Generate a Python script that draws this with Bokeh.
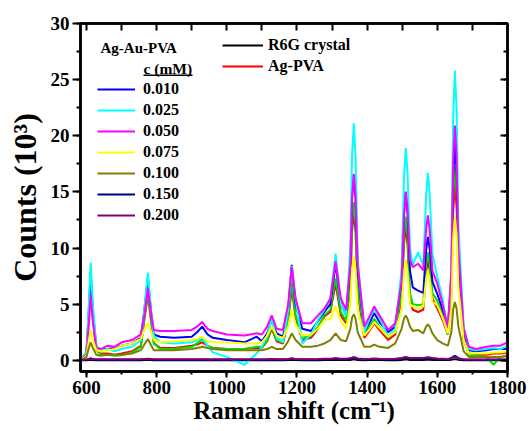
from bokeh.plotting import figure
from bokeh.models import (Range1d, SingleIntervalTicker, LinearAxis, Legend, LegendItem,
                          Label, BoxAnnotation, ColumnDataSource, CustomJSTickFormatter)
from bokeh.embed import file_html
from bokeh.resources import INLINE

# ---------------- data ----------------
raman_shift = [583, 600, 606, 612, 618, 628, 640, 660, 680, 700,
               730, 755, 765, 775, 785, 792, 810, 850, 900, 915,
               930, 945, 960, 1000, 1050, 1085, 1100, 1115, 1128, 1142,
               1160, 1175, 1185, 1196, 1215, 1240, 1260, 1278, 1295, 1310,
               1325, 1340, 1352, 1357, 1362, 1367, 1373, 1392, 1408, 1420,
               1435, 1460, 1480, 1498, 1505, 1510, 1515, 1522, 1530, 1545,
               1560, 1568, 1573, 1578, 1586, 1600, 1615, 1630, 1640, 1645,
               1650, 1655, 1660, 1675, 1690, 1710, 1740, 1760, 1780, 1800]

r6g_crystal = [0.0, 0.0, 0.02, 0.05, 0.02, 0.0, 0.0, 0.0, 0.0, 0.0,
               0.0, 0.0, 0.02, 0.04, 0.02, 0.0, 0.0, 0.0, 0.0, 0.0,
               0.0, 0.0, 0.0, 0.0, 0.0, 0.0, 0.0, 0.0, 0.02, 0.0,
               0.0, 0.02, 0.05, 0.02, 0.0, 0.0, 0.0, 0.02, 0.02, 0.05,
               0.02, 0.02, 0.03, 0.06, 0.08, 0.06, 0.03, 0.0, 0.02, 0.03,
               0.02, 0.0, 0.0, 0.03, 0.06, 0.08, 0.06, 0.03, 0.03, 0.03,
               0.03, 0.05, 0.06, 0.05, 0.03, 0.02, 0.02, 0.02, 0.04, 0.08,
               0.1, 0.08, 0.04, 0.0, 0.0, 0.0, 0.0, 0.0, 0.0, 0.0]

ag_pva = [0.0, 0.5, 3.3, 6.4, 3.7, 0.9, 0.6, 0.6, 0.5, 0.6,
          0.8, 1.3, 3.6, 5.8, 3.3, 1.5, 1.1, 1.1, 1.3, 1.4,
          1.6, 1.3, 1.1, 1.0, 1.0, 1.1, 1.1, 1.7, 2.8, 1.7,
          1.5, 3.5, 6.4, 3.8, 1.8, 2.0, 2.8, 3.9, 4.3, 6.8,
          4.0, 3.3, 6.5, 11.5, 13.2, 11.4, 6.0, 2.0, 2.7, 3.3,
          2.7, 1.8, 2.3, 5.5, 10.3, 11.9, 10.3, 5.5, 4.5, 4.3,
          4.5, 7.8, 8.9, 8.1, 5.5, 4.6, 3.6, 2.3, 5.5, 13.1,
          15.7, 13.6, 7.5, 1.8, 0.6, 0.5, 0.5, 0.6, 0.6, 0.7]

unlabeled_green = [0.0, 0.6, 3.8, 7.3, 4.2, 1.0, 0.5, 0.5, 0.4, 0.45,
                   0.7, 1.2, 3.8, 6.1, 3.5, 1.5, 1.0, 1.0, 1.2, 1.5,
                   1.9, 1.3, 1.1, 1.0, 1.0, 1.2, 1.2, 1.8, 3.0, 1.8,
                   1.6, 3.8, 6.9, 4.0, 2.0, 2.2, 3.0, 4.0, 4.5, 7.3,
                   4.3, 3.5, 7.0, 12.3, 14.1, 12.2, 6.5, 2.2, 3.0, 3.7,
                   3.0, 2.0, 2.5, 6.0, 11.1, 12.8, 11.1, 6.0, 5.0, 4.9,
                   5.0, 8.5, 9.6, 8.7, 6.0, 5.3, 4.0, 2.3, 6.0, 14.4,
                   17.2, 15.0, 8.5, 2.0, 0.5, 0.4, 0.3, -0.4, 0.3, 0.4]

c_0010 = [0.0, 0.7, 4.0, 8.0, 4.5, 1.2, 1.0, 1.0, 1.1, 1.3,
          1.5, 2.0, 4.5, 7.3, 4.0, 2.3, 2.1, 2.0, 2.1, 2.5,
          3.0, 2.3, 2.0, 1.8, 1.6, 2.1, 1.7, 2.4, 3.6, 2.4,
          2.1, 4.5, 8.5, 5.0, 2.8, 2.6, 3.5, 4.3, 5.0, 8.6,
          5.0, 4.0, 8.5, 14.5, 16.5, 14.4, 8.0, 2.5, 3.4, 4.2,
          3.4, 2.5, 3.0, 7.0, 13.0, 15.0, 13.2, 8.0, 6.5, 6.2,
          6.0, 9.8, 11.0, 10.0, 7.0, 5.9, 4.5, 3.1, 7.0, 16.2,
          19.2, 16.8, 9.5, 2.5, 0.9, 0.8, 0.9, 1.0, 1.0, 1.0]

c_0025 = [0.0, 0.8, 4.5, 8.7, 5.0, 1.3, 0.9, 1.0, 0.8, 1.0,
          1.2, 1.8, 4.5, 7.8, 4.2, 2.2, 1.6, 1.5, 1.6, 1.8,
          2.0, 1.3, 0.7, 0.3, -0.4, 0.6, 1.2, 2.2, 3.7, 2.0,
          1.6, 4.5, 8.4, 5.5, 1.5, 2.3, 3.6, 4.5, 5.5, 9.5,
          5.0, 4.0, 10.0, 18.3, 21.1, 18.1, 9.0, 2.5, 3.8, 4.6,
          3.8, 2.1, 2.8, 8.0, 16.2, 18.9, 16.7, 10.0, 8.5, 9.6,
          8.5, 14.6, 16.7, 14.9, 9.5, 7.4, 5.5, 2.6, 8.0, 21.4,
          25.8, 22.3, 12.0, 3.0, 1.0, 0.9, 1.0, 1.1, 1.0, 1.3]

c_0050 = [0.0, 0.5, 3.0, 5.8, 3.5, 1.1, 1.0, 1.3, 1.2, 1.6,
          1.8, 2.3, 4.0, 6.4, 4.0, 2.7, 2.6, 2.6, 2.7, 3.0,
          3.4, 2.8, 2.6, 2.3, 2.2, 2.4, 2.3, 3.0, 4.0, 2.8,
          2.7, 5.0, 8.3, 5.5, 3.3, 3.3, 4.0, 4.6, 5.5, 8.8,
          5.5, 4.5, 8.5, 14.6, 16.6, 14.6, 8.5, 3.0, 4.0, 4.8,
          4.0, 2.7, 3.3, 7.0, 13.0, 15.0, 13.5, 9.0, 8.3, 8.6,
          8.0, 11.7, 12.9, 11.7, 8.0, 6.8, 5.0, 2.9, 8.0, 17.7,
          20.9, 18.2, 10.0, 2.8, 1.2, 1.0, 1.2, 1.3, 1.3, 1.6]

c_0075 = [0.0, 0.4, 1.6, 2.7, 1.8, 0.9, 0.8, 0.9, 1.0, 1.3,
          1.5, 1.9, 2.7, 3.3, 2.5, 1.8, 1.6, 1.7, 1.8, 1.9,
          2.1, 1.7, 1.6, 1.6, 1.5, 1.5, 1.6, 2.2, 3.0, 2.2,
          2.0, 3.0, 4.5, 3.2, 2.2, 2.3, 2.8, 3.6, 3.7, 4.8,
          3.5, 2.8, 5.0, 8.1, 9.2, 8.0, 4.5, 2.2, 2.8, 3.4,
          2.9, 2.1, 2.5, 4.5, 7.8, 8.9, 7.9, 5.0, 4.8, 4.6,
          4.8, 7.2, 8.0, 7.3, 5.2, 4.9, 3.8, 2.4, 4.5, 10.7,
          12.8, 11.2, 6.5, 1.8, 0.6, 0.6, 0.6, 0.7, 0.7, 0.8]

c_0100 = [0.0, 0.3, 1.0, 1.6, 1.1, 0.5, 0.4, 0.5, 0.5, 0.5,
          0.6, 0.9, 1.4, 1.9, 1.3, 0.9, 0.9, 0.9, 1.0, 1.1,
          1.2, 1.1, 1.0, 0.9, 0.9, 0.9, 0.9, 1.0, 1.2, 1.0,
          1.0, 1.7, 2.4, 1.8, 1.2, 1.2, 1.3, 1.5, 1.8, 2.4,
          1.8, 1.7, 2.8, 3.8, 4.1, 3.7, 2.5, 1.2, 1.2, 1.4,
          1.2, 1.1, 1.5, 2.8, 3.7, 4.0, 3.7, 3.0, 2.6, 2.7,
          2.4, 3.0, 3.2, 3.0, 2.4, 1.8, 1.5, 1.3, 2.5, 4.5,
          5.2, 4.6, 3.0, 0.8, 0.3, 0.3, 0.3, 0.3, 0.3, 0.4]

c_0150 = [0.0, 0.05, 0.1, 0.15, 0.1, 0.05, 0.05, 0.05, 0.05, 0.05,
          0.05, 0.05, 0.08, 0.12, 0.08, 0.05, 0.05, 0.05, 0.05, 0.05,
          0.06, 0.05, 0.05, 0.05, 0.05, 0.05, 0.05, 0.06, 0.08, 0.06,
          0.06, 0.1, 0.15, 0.1, 0.07, 0.07, 0.08, 0.1, 0.1, 0.15,
          0.1, 0.1, 0.15, 0.2, 0.25, 0.2, 0.12, 0.08, 0.1, 0.12,
          0.1, 0.08, 0.1, 0.15, 0.2, 0.25, 0.2, 0.15, 0.15, 0.15,
          0.15, 0.18, 0.22, 0.18, 0.15, 0.12, 0.1, 0.08, 0.2, 0.32,
          0.4, 0.3, 0.18, 0.06, 0.04, 0.04, 0.04, 0.04, 0.04, 0.04]

c_0200 = [0.0, 0.08, 0.12, 0.15, 0.12, 0.1, 0.1, 0.1, 0.1, 0.1,
          0.1, 0.1, 0.12, 0.14, 0.12, 0.1, 0.1, 0.1, 0.1, 0.1,
          0.1, 0.1, 0.1, 0.1, 0.1, 0.1, 0.1, 0.1, 0.12, 0.1,
          0.1, 0.12, 0.16, 0.12, 0.1, 0.1, 0.12, 0.14, 0.14, 0.18,
          0.14, 0.14, 0.18, 0.24, 0.28, 0.24, 0.16, 0.12, 0.14, 0.16,
          0.14, 0.12, 0.14, 0.2, 0.26, 0.3, 0.26, 0.2, 0.2, 0.2,
          0.2, 0.24, 0.26, 0.24, 0.2, 0.16, 0.14, 0.12, 0.18, 0.26,
          0.3, 0.26, 0.16, 0.1, 0.08, 0.08, 0.08, 0.08, 0.08, 0.08]

# ---------------- figure ----------------
FONT = "Liberation Serif"

source = ColumnDataSource(dict(
    x=raman_shift, r6g=r6g_crystal, agpva=ag_pva, green=unlabeled_green,
    c0010=c_0010, c0025=c_0025, c0050=c_0050, c0075=c_0075,
    c0100=c_0100, c0150=c_0150, c0200=c_0200))

p = figure(width=529, height=431, output_backend="svg", toolbar_location=None,
           x_range=Range1d(583, 1800), y_range=Range1d(-1, 30),
           min_border_left=80, min_border_right=22, min_border_top=23,
           min_border_bottom=60)
p.background_fill_color = "white"
p.border_fill_color = "white"
p.grid.visible = False
p.outline_line_color = "black"
p.outline_line_width = 2.5

p.xaxis.ticker = SingleIntervalTicker(interval=200, num_minor_ticks=2)
p.yaxis.ticker = SingleIntervalTicker(interval=5, num_minor_ticks=2)

for ax in (p.xaxis[0], p.yaxis[0]):
    ax.axis_line_width = 2.5
    ax.major_tick_line_width = 2
    ax.minor_tick_line_width = 2
    ax.major_tick_in = 0
    ax.minor_tick_in = 0
    ax.major_label_text_font = FONT
    ax.major_label_text_font_style = "bold"
    ax.major_label_text_font_size = "19px"
    ax.major_label_text_color = "black"
    ax.axis_label_text_font = FONT
    ax.axis_label_text_font_style = "bold"
    ax.axis_label_text_color = "black"

p.yaxis.major_tick_out = 8
p.yaxis.minor_tick_out = 4
p.yaxis.major_label_standoff = 3
p.yaxis.axis_label = "Counts (10³)"
p.yaxis.axis_label_text_font_size = "32px"
p.yaxis.axis_label_standoff = 5

p.xaxis.major_tick_out = 6
p.xaxis.minor_tick_out = 3
p.xaxis.major_label_standoff = 3
p.xaxis.axis_label = "Raman shift (cm⁻¹)"
p.xaxis.axis_label_text_font_size = "25px"
p.xaxis.axis_label_standoff = 0

blank = CustomJSTickFormatter(code="return ''")
top = LinearAxis(ticker=SingleIntervalTicker(interval=100, num_minor_ticks=0),
                 formatter=blank, major_tick_in=7, major_tick_out=0,
                 major_tick_line_width=2, axis_line_width=2.5,
                 major_label_standoff=0, major_label_text_font_size="1px")
right = LinearAxis(ticker=SingleIntervalTicker(interval=5, num_minor_ticks=2),
                   formatter=blank, major_tick_in=7, major_tick_out=0,
                   minor_tick_in=4, minor_tick_out=0,
                   major_tick_line_width=2, minor_tick_line_width=2,
                   axis_line_width=2.5,
                   major_label_standoff=0, major_label_text_font_size="1px")
p.add_layout(top, "above")
p.add_layout(right, "right")

LW = 2
r_black = p.line("x", "r6g", source=source, color="black", line_width=LW)
r_red = p.line("x", "agpva", source=source, color="#FF0000", line_width=LW)
r_green = p.line("x", "green", source=source, color="#00DD00", line_width=LW)
r_blue = p.line("x", "c0010", source=source, color="#0000FF", line_width=LW)
r_cyan = p.line("x", "c0025", source=source, color="#00FFFF", line_width=LW)
r_mag = p.line("x", "c0050", source=source, color="#FF00FF", line_width=LW)
r_yel = p.line("x", "c0075", source=source, color="#FFFF00", line_width=LW)
r_olive = p.line("x", "c0100", source=source, color="#808000", line_width=LW)
r_navy = p.line("x", "c0150", source=source, color="#000080", line_width=LW)
r_purple = p.line("x", "c0200", source=source, color="#800080", line_width=LW)

def style_legend(lg):
    lg.label_text_font = FONT
    lg.label_text_font_style = "bold"
    lg.label_text_font_size = "16px"
    lg.label_text_color = "black"
    lg.border_line_color = None
    lg.background_fill_alpha = 0
    lg.padding = 0
    lg.margin = 0
    lg.label_height = 20
    lg.glyph_height = 20
    lg.spacing = 1

# legend location: (left, bottom) offsets from the frame's bottom-left corner
leg1 = Legend(items=[LegendItem(label="0.010", renderers=[r_blue]),
                     LegendItem(label="0.025", renderers=[r_cyan]),
                     LegendItem(label="0.050", renderers=[r_mag]),
                     LegendItem(label="0.075", renderers=[r_yel]),
                     LegendItem(label="0.100", renderers=[r_olive]),
                     LegendItem(label="0.150", renderers=[r_navy]),
                     LegendItem(label="0.200", renderers=[r_purple])],
              location=(17, 146), glyph_width=38, label_standoff=8)
style_legend(leg1)
leg2 = Legend(items=[LegendItem(label="R6G crystal", renderers=[r_black]),
                     LegendItem(label="Ag-PVA", renderers=[r_red])],
              location=(142, 295), glyph_width=41, label_standoff=5)
style_legend(leg2)
p.add_layout(leg1)
p.add_layout(leg2)

hdr = Label(x=20, y=324, x_units="screen", y_units="screen", text="Ag-Au-PVA",
            text_font=FONT, text_font_style="bold", text_font_size="15px",
            text_color="black", text_baseline="alphabetic")
sub = Label(x=63, y=303, x_units="screen", y_units="screen", text="c (mM)",
            text_font=FONT, text_font_style="bold", text_font_size="15.5px",
            text_color="black", text_baseline="alphabetic")
p.add_layout(hdr)
p.add_layout(sub)
uline = BoxAnnotation(left=63, right=112, bottom=295.5, top=297,
                      left_units="screen", right_units="screen",
                      bottom_units="screen", top_units="screen",
                      fill_color="black", fill_alpha=1, line_color=None)
p.add_layout(uline)

open("out.html", "w").write(file_html(p, INLINE))
